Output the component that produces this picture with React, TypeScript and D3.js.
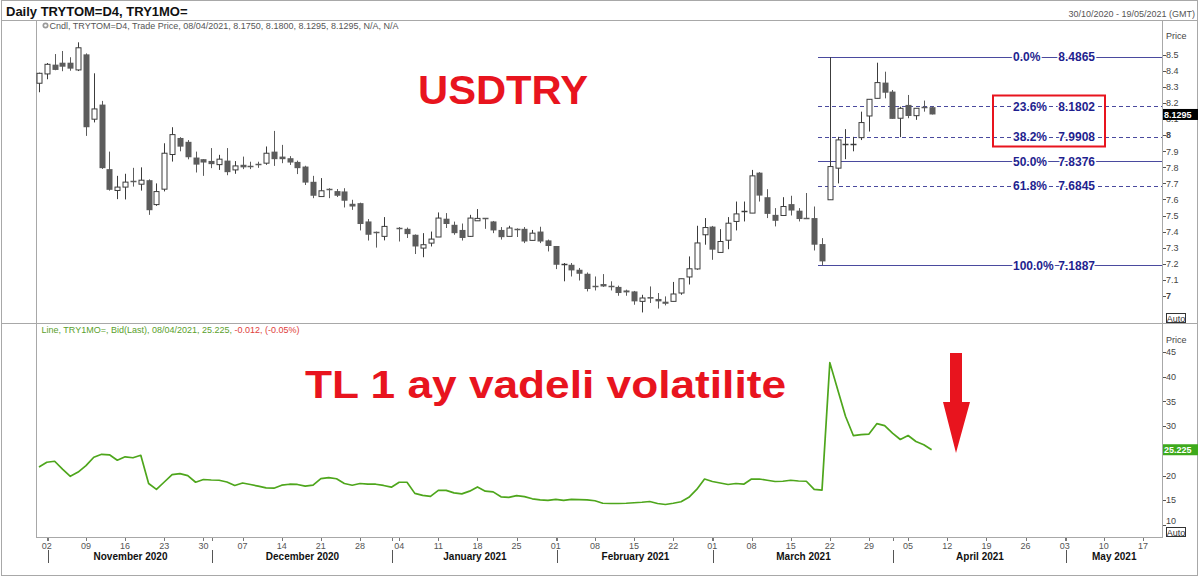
import React from 'react';
import * as d3 from 'd3';

// ---------- DATA ----------
const calendarStart = new Date(Date.UTC(2020, 9, 30));
const calendarEnd = new Date(Date.UTC(2021, 4, 19));

// daily OHLC by weekday index from 30/10/2020 (null = no trading)
const candleOpen = [
  8.324, 8.382, 8.44, 8.452, 8.452, 8.407, 8.504, 8.10, 8.191, 7.789,
  7.656, 7.677, 7.712, 7.695, 7.72, 7.568, 7.664, 7.88, 7.983, 7.959,
  7.861, 7.851, 7.84, 7.817, 7.842, 7.784, 7.816, 7.808, 7.82, 7.826,
  7.898, 7.867, 7.857, 7.834, 7.805, 7.71, 7.618, 7.665, 7.652, 7.65,
  7.573, 7.577, 7.463, 7.395, 7.37, null, 7.425, 7.417, 7.38, 7.297,
  7.328, 7.366, 7.48, 7.442, 7.41, 7.37, 7.467, 7.482, 7.463, 7.41,
  7.37, 7.417, 7.417, 7.345, 7.40, 7.345, 7.31, 7.19, 7.193, 7.162,
  7.137, 7.058, 7.073, 7.062, 7.055, 7.033, 7.027, 6.965, 6.992, 6.98,
  6.963, 6.965, 7.017, 7.117, 7.167, 7.38, 7.431, 7.27, 7.346, 7.463,
  7.525, 7.515, 7.767, 7.614, 7.504, 7.50, 7.571, 7.53, 7.486, 7.484,
  7.322, 7.598, 7.795, 7.944, 7.944, 7.985, 8.12, 8.23, 8.328, 8.272,
  8.106, 8.189, 8.122, 8.175, 8.175,
];
const candleHigh = [
  8.39, 8.45, 8.506, 8.525, 8.486, 8.579, 8.51, 8.386, 8.214, 7.898,
  7.747, 7.76, 7.797, 7.80, 7.725, 7.70, 7.95, 8.05, 7.988, 7.97,
  7.898, 7.851, 7.92, 7.878, 7.92, 7.839, 7.867, 7.835, 7.835, 7.93,
  8.027, 7.94, 7.87, 7.842, 7.81, 7.747, 7.733, 7.67, 7.665, 7.67,
  7.598, 7.58, 7.478, 7.40, 7.49, null, 7.428, 7.425, 7.382, 7.39,
  7.40, 7.519, 7.515, 7.462, 7.45, 7.504, 7.54, 7.484, 7.466, 7.428,
  7.436, 7.42, 7.428, 7.41, 7.43, 7.35, 7.31, 7.204, 7.204, 7.173,
  7.145, 7.12, 7.135, 7.09, 7.063, 7.038, 7.03, 7.006, 7.058, 7.017,
  6.996, 7.086, 7.106, 7.245, 7.436, 7.484, 7.435, 7.415, 7.49, 7.587,
  7.587, 7.784, 7.77, 7.664, 7.546, 7.614, 7.623, 7.546, 7.64, 7.556,
  7.359, 8.4865, 7.99, 8.038, 7.99, 8.147, 8.224, 8.452, 8.396, 8.282,
  8.178, 8.251, 8.168, 8.216, 8.18,
];
const candleLow = [
  8.268, 8.349, 8.405, 8.399, 8.402, 8.40, 7.996, 8.08, 7.79, 7.655,
  7.602, 7.60, 7.68, 7.655, 7.504, 7.56, 7.65, 7.836, 7.90, 7.85,
  7.768, 7.747, 7.795, 7.784, 7.751, 7.76, 7.789, 7.789, 7.797, 7.816,
  7.809, 7.826, 7.815, 7.758, 7.69, 7.608, 7.618, 7.608, 7.615, 7.55,
  7.535, 7.407, 7.344, 7.30, 7.345, null, 7.338, 7.36, 7.26, 7.24,
  7.307, 7.366, 7.422, 7.38, 7.344, 7.366, 7.467, 7.417, 7.39, 7.35,
  7.37, 7.366, 7.328, 7.345, 7.328, 7.276, 7.166, 7.09, 7.12, 7.095,
  7.027, 7.033, 7.055, 7.033, 7.0, 7.0, 6.944, 6.896, 6.955, 6.92,
  6.94, 6.965, 7.006, 7.07, 7.162, 7.318, 7.224, 7.27, 7.29, 7.407,
  7.463, 7.515, 7.587, 7.484, 7.432, 7.50, 7.50, 7.463, 7.478, 7.282,
  7.1887, 7.598, 7.70, 7.851, 7.90, 7.97, 8.023, 8.23, 8.23, 8.102,
  7.988, 8.106, 8.096, 8.147, 8.1295,
];
const candleClose = [
  8.386, 8.442, 8.407, 8.427, 8.415, 8.545, 8.05, 8.164, 7.795, 7.66,
  7.677, 7.708, 7.708, 7.72, 7.533, 7.649, 7.888, 8.004, 7.929, 7.863,
  7.817, 7.83, 7.82, 7.851, 7.77, 7.809, 7.80, 7.80, 7.82, 7.888,
  7.851, 7.851, 7.83, 7.795, 7.705, 7.623, 7.654, 7.663, 7.623, 7.592,
  7.556, 7.447, 7.38, 7.39, 7.432, null, 7.423, 7.384, 7.307, 7.318,
  7.353, 7.484, 7.447, 7.39, 7.36, 7.484, 7.482, 7.478, 7.407, 7.365,
  7.422, 7.415, 7.338, 7.39, 7.338, 7.31, 7.193, 7.195, 7.158, 7.137,
  7.042, 7.056, 7.058, 7.06, 7.017, 7.021, 6.965, 6.986, 6.982, 6.965,
  6.95, 7.011, 7.106, 7.168, 7.329, 7.425, 7.287, 7.338, 7.452, 7.51,
  7.527, 7.747, 7.624, 7.51, 7.467, 7.556, 7.531, 7.478, 7.484, 7.318,
  7.214, 7.805, 7.971, 7.946, 7.946, 8.079, 8.224, 8.328, 8.265, 8.102,
  8.168, 8.12, 8.168, 8.172, 8.1295,
];

// TRY 1M implied volatility, Bid(Last), same weekday index
const volatility = [
  21.75, 22.7, 22.9, 21.3, 19.85, 20.7, 22.0, 23.7, 24.3, 24.2,
  23.1, 23.8, 23.6, 24.1, 18.4, 17.2, 18.7, 20.2, 20.4, 20.0,
  18.65, 19.2, 19.1, 19.05, 18.7, 18.0, 18.5, 18.2, 17.85, 17.5,
  17.45, 18.05, 18.25, 18.2, 17.85, 18.05, 19.4, 19.6, 19.35, 18.4,
  18.05, 18.4, 18.25, 18.25, 18.0, 17.65, 18.65, 18.65, 16.4, 16.0,
  15.8, 17.0, 17.0, 16.5, 16.3, 16.85, 17.7, 16.85, 16.7, 15.7,
  15.6, 15.95, 15.75, 15.3, 15.1, 15.0, 15.2, 15.0, 15.2, 15.15,
  15.1, 14.9, 14.4, 14.35, 14.35, 14.4, 14.5, 14.6, 14.75, 14.35,
  14.15, 14.4, 14.7, 15.6, 17.2, 19.3, 18.8, 18.5, 18.2, 18.4,
  18.25, 19.3, 19.3, 19.05, 18.8, 18.85, 19.05, 18.9, 18.85, 17.2,
  17.05, 42.85, 37.4, 32.0, 28.1, 28.3, 28.4, 30.5, 30.1, 28.6,
  27.3, 28.1, 26.9, 26.25, 25.225,
];

const fibPercents = [0, 23.6, 38.2, 50, 61.8, 100];
const fibValues = [8.4865, 8.1802, 7.9908, 7.8376, 7.6845, 7.1887];
const fibDashed = [false, true, true, false, true, false];
const fibStartIndex = 100;

const priceTicks = [7, 7.1, 7.2, 7.3, 7.4, 7.5, 7.6, 7.7, 7.8, 7.9, 8, 8.1, 8.2, 8.3, 8.4, 8.5];
const volTicks = [10, 15, 20, 25, 30, 35, 40, 45];
const monthNames = ['January', 'February', 'March', 'April', 'May', 'June', 'July', 'August', 'September', 'October', 'November', 'December'];

const lastPrice = 8.1295;
const lastVol = 25.225;

const headerTitle = 'Daily TRYTOM=D4, TRY1MO=';
const headerRange = '30/10/2020 - 19/05/2021 (GMT)';
const candleLegend = 'Cndl, TRYTOM=D4, Trade Price, 08/04/2021, 8.1750, 8.1800, 8.1295, 8.1295, N/A, N/A';
const lineLegendGreen = 'Line, TRY1MO=, Bid(Last), 08/04/2021, 25.225, ';
const lineLegendRed = '-0.012, (-0.05%)';
const titleUpper = 'USDTRY';
const titleLower = 'TL 1 ay vadeli volatilite';

// ---------- LAYOUT ----------
const W = 1200;
const H = 577;
const plotL = 36;
const plotR = 1162;
const upperTop = 20;
const upperBot = 323;
const lowerBot = 537;
const FONT = 'Liberation Sans, Arial, Helvetica, sans-serif';
const GRID = '#a8a8a8';
const FIB = '#4a4a9e';
const FIBTXT = '#1f1f8f';
const RED = '#e8141e';
const GREEN = '#4ea61c';

export default function App() {
  const days = d3.utcDay.range(calendarStart, d3.utcDay.offset(calendarEnd, 1))
    .filter((d) => d.getUTCDay() !== 0 && d.getUTCDay() !== 6);

  const x = d3.scaleLinear().domain([0, days.length - 1]).range([39, 39 + 7.83 * (days.length - 1)]);
  const yP = d3.scaleLinear().domain([7, 8.5]).range([295.75, 55]);
  const yV = d3.scaleLinear().domain([10, 45]).range([525, 352]);

  const mondays = days.map((d, i) => ({ d, i })).filter((o) => o.d.getUTCDay() === 1);
  const monthStarts = days.map((d, i) => ({ d, i }))
    .filter((o, k, arr) => k > 0 && o.d.getUTCMonth() !== arr[k - 1].d.getUTCMonth());

  const volLine = d3.line<number>().x((_, i) => x(i)).y((v) => yV(v));

  const candles = candleOpen.map((o, i) => {
    if (o == null) return null;
    const h = candleHigh[i] as number;
    const l = candleLow[i] as number;
    const c = candleClose[i] as number;
    const cx = Math.round(x(i)) + 0.5;
    const up = c > o;
    const yt = yP(Math.max(o, c));
    const yb = yP(Math.min(o, c));
    const doji = yb - yt < 1.5;
    const col = up ? '#3c3c3c' : '#5c5c5c';
    return (
      <g key={i}>
        <line x1={cx} x2={cx} y1={yP(h)} y2={yP(l)} stroke={col} strokeWidth={1} />
        {doji ? (
          <line x1={cx - 3} x2={cx + 3} y1={Math.round(yt) + 0.5} y2={Math.round(yt) + 0.5} stroke={col} strokeWidth={1.5} />
        ) : up ? (
          <rect x={cx - 2.5} y={yt} width={5} height={yb - yt} fill="#fff" stroke={col} strokeWidth={1} />
        ) : (
          <rect x={cx - 3} y={yt} width={6} height={yb - yt} fill={col} />
        )}
      </g>
    );
  });

  const fibX1 = x(fibStartIndex) - 4;
  const hiddenByPriceTag = (t: number) => Math.abs(yP(t) - yP(lastPrice)) < 3;
  const hiddenByVolTag = (t: number) => Math.abs(yV(t) - yV(lastVol)) < 8;

  return (
    <svg width={W} height={H} style={{ position: 'absolute', left: 0, top: 0, background: '#fff' }} fontFamily={FONT}>
      <rect x={0} y={0} width={W} height={H} fill="#fff" />
      {/* frame */}
      <rect x={1.5} y={0.5} width={1196} height={575} fill="none" stroke={GRID} />
      <line x1={1} x2={1198} y1={upperTop + 0.5} y2={upperTop + 0.5} stroke={GRID} />
      <line x1={1} x2={1198} y1={upperBot + 0.5} y2={upperBot + 0.5} stroke={GRID} />
      <line x1={plotL + 0.5} x2={plotL + 0.5} y1={upperTop} y2={lowerBot} stroke={GRID} />
      <line x1={plotR + 0.5} x2={plotR + 0.5} y1={upperTop} y2={lowerBot} stroke={GRID} />
      <line x1={plotL} x2={plotR + 1} y1={lowerBot + 0.5} y2={lowerBot + 0.5} stroke={GRID} />

      {/* header */}
      <text x={6} y={16} fontSize={13} fontWeight="bold" fill="#111">{headerTitle}</text>
      <text x={1195} y={17} fontSize={9} fill="#555" textAnchor="end">{headerRange}</text>

      {/* legends */}
      <circle cx={45.5} cy={25.5} r={3} fill="#9a9a9a" />
      <circle cx={45.5} cy={25.5} r={1.3} fill="#fff" />
      <text x={49.5} y={29} fontSize={9} fill="#555">{candleLegend}</text>
      <text x={41.5} y={333} fontSize={9}>
        <tspan fill="#5aa02c">{lineLegendGreen}</tspan>
        <tspan fill="#e0403c">{lineLegendRed}</tspan>
      </text>

      {/* fib lines */}
      {fibValues.map((v, k) => (
        <line key={'f' + k} x1={fibX1} x2={plotR} y1={Math.round(yP(v)) + 0.5} y2={Math.round(yP(v)) + 0.5}
          stroke={FIB} strokeWidth={1} strokeDasharray={fibDashed[k] ? '4,3' : undefined} />
      ))}

      {/* candles */}
      {candles}

      {/* fib labels */}
      {fibValues.map((v, k) => (
        <g key={'fl' + k} fontSize={12} fontWeight="bold" fill={FIBTXT} stroke="#fff" strokeWidth={3} style={{ paintOrder: 'stroke' }}>
          <text x={1013} y={yP(v) + 4.3}>{fibPercents[k].toFixed(1) + '%'}</text>
          <text x={1095} y={yP(v) + 4.3} textAnchor="end">{v.toFixed(4)}</text>
        </g>
      ))}
      <rect x={993} y={95.5} width={112} height={51} fill="none" stroke={RED} strokeWidth={2} />

      {/* volatility line */}
      <path d={volLine(volatility) || ''} fill="none" stroke={GREEN} strokeWidth={1.7} strokeLinejoin="round" />

      {/* annotations */}
      <text x={418} y={104} fontSize={40} fontWeight="bold" fill={RED} textLength={170} lengthAdjust="spacingAndGlyphs">{titleUpper}</text>
      <text x={305} y={398} fontSize={39} fontWeight="bold" fill={RED} textLength={481} lengthAdjust="spacingAndGlyphs">{titleLower}</text>
      <path d="M950,353 L962,353 L962,402 L970,402 L956,453 L943,402 L950,402 Z" fill={RED} />

      {/* upper y axis */}
      <text x={1166} y={39} fontSize={9} fill="#444">Price</text>
      {priceTicks.map((t) => (
        <g key={'pt' + t}>
          <line x1={plotR + 1} x2={plotR + 4} y1={Math.round(yP(t)) + 0.5} y2={Math.round(yP(t)) + 0.5} stroke="#555" />
          {!hiddenByPriceTag(t) && (
            <text x={1166} y={yP(t) + 3.2} fontSize={9} fill="#444" fontWeight={Number.isInteger(t) ? 'bold' : 'normal'}>
              {Number.isInteger(t) ? String(t) : t.toFixed(1)}
            </text>
          )}
        </g>
      ))}
      <rect x={plotR + 1} y={yP(lastPrice) - 5.5} width={35} height={11} fill="#000" />
      <text x={plotR + 2} y={yP(lastPrice) + 3.3} fontSize={9} fontWeight="bold" fill="#fff">{lastPrice.toFixed(4)}</text>
      <rect x={1166.5} y={313.5} width={19} height={9} fill="#fff" stroke="#333" />
      <text x={1176} y={321.5} fontSize={9} fill="#333" textAnchor="middle">Auto</text>

      {/* lower y axis */}
      <text x={1166} y={343} fontSize={9} fill="#444">Price</text>
      {volTicks.map((t) => (
        <g key={'vt' + t}>
          <line x1={plotR + 1} x2={plotR + 4} y1={Math.round(yV(t)) + 0.5} y2={Math.round(yV(t)) + 0.5} stroke="#555" />
          {!hiddenByVolTag(t) && (
            <text x={1166} y={yV(t) + 3.2 - (t === 10 ? 4 : 0)} fontSize={9} fill="#444">{t}</text>
          )}
        </g>
      ))}
      <rect x={plotR + 1} y={yV(lastVol) - 5.5} width={35} height={11} fill="#3eaa1c" />
      <text x={plotR + 2} y={yV(lastVol) + 3.3} fontSize={9} fontWeight="bold" fill="#fff">{lastVol.toFixed(3)}</text>
      <rect x={1166.5} y={527.5} width={19} height={9} fill="#fff" stroke="#333" />
      <text x={1176} y={535.5} fontSize={9} fill="#333" textAnchor="middle">Auto</text>

      {/* x axis */}
      {mondays.map(({ d, i }) => (
        <g key={'w' + i}>
          <line x1={Math.round(x(i)) + 0.5} x2={Math.round(x(i)) + 0.5} y1={538} y2={541} stroke="#777" />
          <text x={x(i)} y={548.5} fontSize={9} fill="#555" textAnchor="middle">{d3.utcFormat('%d')(d)}</text>
        </g>
      ))}
      {[{ d: days[1], i: 1 }, ...monthStarts.filter((m) => m.d.getUTCMonth() !== 10)].map(({ d, i }, k, arr) => {
        const sx = Math.round(x(i)) + 1.5;
        const nx = k + 1 < arr.length ? Math.round(x(arr[k + 1].i)) + 1.5 : plotR;
        return (
          <g key={'m' + i}>
            <line x1={sx} x2={sx} y1={538} y2={541} stroke="#777" />
            <line x1={sx} x2={sx} y1={550} y2={563} stroke="#555" />
            <text x={(sx + nx) / 2} y={560} fontSize={10} fontWeight="bold" fill="#111" textAnchor="middle">
              {monthNames[d.getUTCMonth()] + ' ' + d.getUTCFullYear()}
            </text>
          </g>
        );
      })}
    </svg>
  );
}
